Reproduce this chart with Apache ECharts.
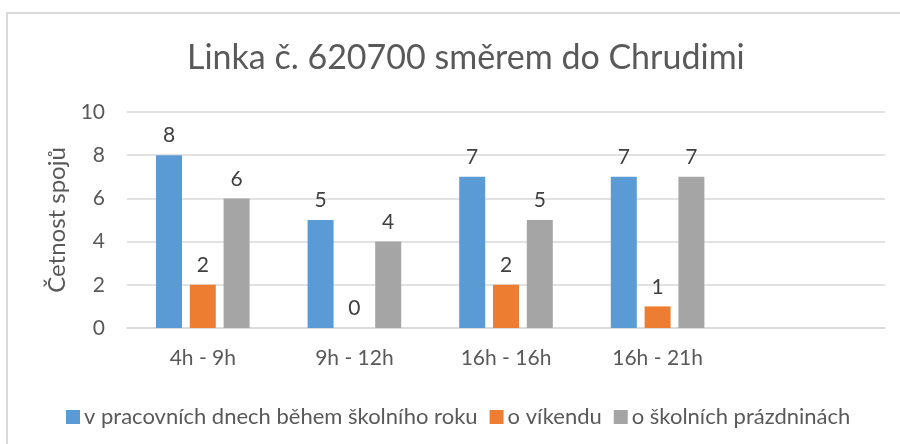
<!DOCTYPE html>
<html>
<head>
<meta charset="utf-8">
<script src="https://cdn.jsdelivr.net/npm/echarts@6/dist/echarts.min.js"></script>
<style>
  html, body { margin: 0; padding: 0; background: #fff; }
  #chart { width: 900px; height: 444px; }
</style>
</head>
<body>
<div id="chart"></div>
<script>
// data
var categories = ['4h - 9h', '9h - 12h', '16h - 16h', '16h - 21h', ''];
var seriesNames = ['v pracovních dnech během školního roku', 'o víkendu', 'o školních prázdninách'];
var workdays = [8, 5, 7, 7, null];
var weekend = [2, 0, 2, 1, null];
var holidays = [6, 4, 5, 7, null];
var yTicks = [0, 2, 4, 6, 8, 10];

var colors = ['#5b9bd5', '#ed7d31', '#a5a5a5'];
var font = 'Lato';

var chart = echarts.init(document.getElementById('chart'));

function barSeries(name, data, color) {
  return {
    name: name,
    type: 'bar',
    data: data,
    barWidth: 26,
    barGap: '30%',
    itemStyle: { color: color },
    label: {
      show: true,
      position: 'top',
      distance: 9,
      color: '#404040',
      fontFamily: font,
      fontSize: 21
    }
  };
}

chart.setOption({
  animation: false,
  title: {
    text: 'Linka č. 620700 směrem do Chrudimi',
    left: 182,
    top: 36,
    textStyle: { color: '#595959', fontFamily: font, fontSize: 34, fontWeight: 'normal' }
  },
  // outer chart border (partly cropped in the reference)
  graphic: [{
    type: 'rect',
    shape: { x: 7, y: 13, width: 920, height: 460 },
    style: { fill: 'none', stroke: '#d9d9d9', lineWidth: 2 }
  }],
  legend: {
    data: seriesNames,
    top: 401,
    left: 61,
    itemWidth: 14,
    itemHeight: 14,
    itemGap: 12,
    icon: 'rect',
    textStyle: { color: '#595959', fontFamily: font, fontSize: 22, padding: [0, 0, 0, -1] }
  },
  grid: { left: 127, right: 15, top: 112, bottom: 116 },
  xAxis: {
    type: 'category',
    data: categories,
    axisTick: { show: false },
    axisLine: { lineStyle: { color: '#d9d9d9', width: 1.5 } },
    axisLabel: { color: '#595959', fontFamily: font, fontSize: 21, margin: 20 }
  },
  yAxis: {
    type: 'value',
    min: yTicks[0],
    max: yTicks[yTicks.length - 1],
    interval: 2,
    name: 'Četnost spojů',
    nameLocation: 'middle',
    nameGap: 58,
    nameRotate: 90,
    nameTextStyle: { color: '#595959', fontFamily: font, fontSize: 24 },
    axisLine: { show: false },
    axisTick: { show: false },
    axisLabel: { color: '#595959', fontFamily: font, fontSize: 21, margin: 22 },
    splitLine: { lineStyle: { color: '#d9d9d9', width: 1.5 } }
  },
  series: [
    barSeries(seriesNames[0], workdays, colors[0]),
    barSeries(seriesNames[1], weekend, colors[1]),
    barSeries(seriesNames[2], holidays, colors[2])
  ]
});
</script>
</body>
</html>
